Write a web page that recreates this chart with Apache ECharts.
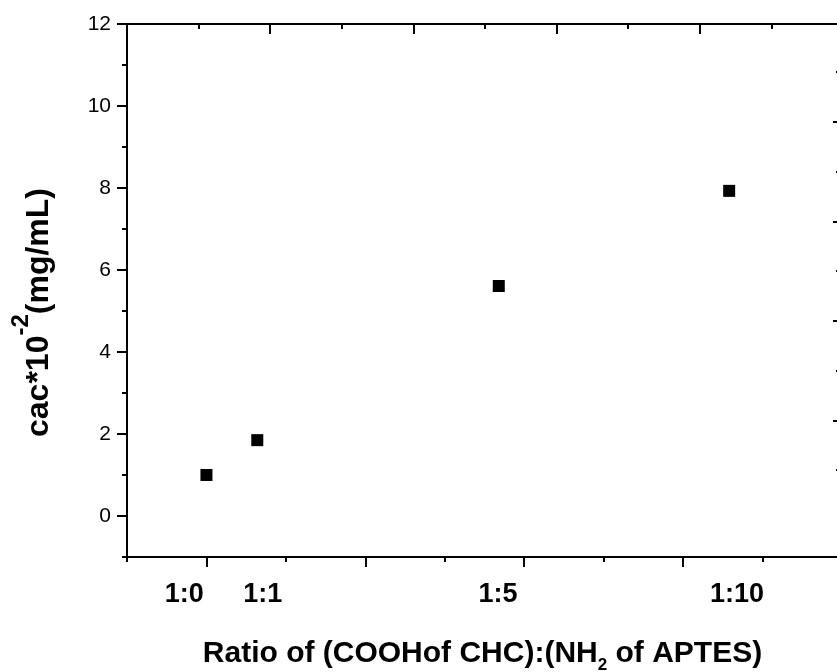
<!DOCTYPE html>
<html>
<head>
<meta charset="utf-8">
<script src="https://cdn.jsdelivr.net/npm/echarts@6/dist/echarts.min.js"></script>
<style>
  html, body { margin: 0; padding: 0; background: #fff; }
  #chart { width: 837px; height: 672px; }
</style>
</head>
<body>
<div id="chart"></div>
<script>
// ratio labels and where they sit on the bottom axis
const ratioLabels = ['1:0', '1:1', '1:5', '1:10'];
const ratioLabelPos = [-0.28, 0.71, 3.67, 6.68];

// measured points: x position on the bottom axis, cac value
const pointX = [0, 0.64, 3.68, 6.58];
const cacValues = [1.0, 1.85, 5.61, 7.93];

// tick values
const yMajorTicks = [0, 2, 4, 6, 8, 10, 12];
const yMinorTicks = [-1, 1, 3, 5, 7, 9, 11];
const xMajorTicks = [0, 2, 4, 6];
const xMinorTicks = [-1, 1, 3, 5, 7];
const topMajorTicks = [1, 3, 5, 7];
const topMinorTicks = [0, 2, 4, 6, 8];
const rightMajorTicks = [2, 4, 6, 8];
const rightMinorTicks = [1, 3, 5, 7, 9];

const FONT = '"Liberation Sans", Arial, sans-serif';
const black = '#000';

const points = pointX.map((x, i) => [x, cacValues[i]]);

function tickAxis(extra) {
  // plain axis that only shows ticks
  return Object.assign({
    type: 'value',
    axisLine: { show: false, onZero: false },
    axisLabel: { show: false },
    splitLine: { show: false }
  }, extra);
}

const chart = echarts.init(document.getElementById('chart'));
const option = {
  animation: false,
  backgroundColor: '#fff',
  grid: [
    { left: 127, top: 24, right: -1, bottom: 115, outerBoundsMode: 'none', containLabel: false },
    { left: 127, top: 24, right: -1, bottom: 115, outerBoundsMode: 'none', containLabel: false }
  ],
  xAxis: [
    {
      type: 'value', gridIndex: 0, position: 'bottom',
      min: -1, max: 7.95,
      axisLine: { show: true, onZero: false, lineStyle: { color: black, width: 2 } },
      axisTick: { show: true, length: 10, customValues: xMajorTicks, lineStyle: { color: black, width: 2 } },
      axisLabel: {
        show: true, margin: 24, customValues: ratioLabelPos,
        formatter: v => ratioLabels[ratioLabelPos.indexOf(v)],
        color: black, fontFamily: FONT, fontWeight: 'bold', fontSize: 27
      },
      splitLine: { show: false },
      name: 'Ratio of (COOHof CHC):(NH{sub|2} of APTES)',
      nameLocation: 'middle', nameGap: 77,
      nameTextStyle: {
        color: black, fontFamily: FONT, fontWeight: 'bold', fontSize: 30, lineHeight: 30,
        rich: { sub: { fontFamily: FONT, fontWeight: 'bold', fontSize: 17, lineHeight: 40, verticalAlign: 'bottom', color: black } }
      }
    },
    {
      type: 'value', gridIndex: 0, position: 'top',
      min: -1, max: 8.93,
      axisLine: { show: true, onZero: false, lineStyle: { color: black, width: 2 } },
      axisTick: { show: true, inside: true, length: 10, customValues: topMajorTicks, lineStyle: { color: black, width: 2 } },
      axisLabel: { show: false },
      splitLine: { show: false }
    },
    tickAxis({ gridIndex: 1, position: 'bottom', min: -1, max: 7.95, axisTick: { show: true, length: 5, customValues: xMinorTicks, lineStyle: { color: black, width: 2 } } }),
    tickAxis({ gridIndex: 1, position: 'top', min: -1, max: 8.93, axisTick: { show: true, inside: true, length: 5, customValues: topMinorTicks, lineStyle: { color: black, width: 2 } } })
  ],
  yAxis: [
    {
      type: 'value', gridIndex: 0, position: 'left',
      min: -1, max: 12,
      axisLine: { show: true, onZero: false, lineStyle: { color: black, width: 2 } },
      axisTick: { show: true, length: 10, customValues: yMajorTicks, lineStyle: { color: black, width: 2 } },
      axisLabel: {
        show: true, margin: 16, customValues: yMajorTicks, showMaxLabel: true, showMinLabel: true,
        color: black, fontFamily: FONT, fontSize: 21
      },
      splitLine: { show: false },
      name: 'cac*10{sup|-2}(mg/mL)',
      nameLocation: 'middle', nameGap: 58, nameRotate: 90,
      nameTextStyle: {
        color: black, fontFamily: FONT, fontWeight: 'bold', fontSize: 32, lineHeight: 32,
        padding: [0, 44, 0, 0],
        rich: { sup: { fontFamily: FONT, fontWeight: 'bold', fontSize: 24, lineHeight: 60, verticalAlign: 'top', color: black } }
      }
    },
    {
      type: 'value', gridIndex: 0, position: 'right',
      min: -0.75, max: 9.97,
      axisLine: { show: true, onZero: false, lineStyle: { color: black, width: 2 } },
      axisTick: { show: true, inside: true, length: 5, customValues: rightMajorTicks, lineStyle: { color: black, width: 2 } },
      axisLabel: { show: false },
      splitLine: { show: false }
    },
    tickAxis({ gridIndex: 1, position: 'left', min: -1, max: 12, axisTick: { show: true, length: 5, customValues: yMinorTicks, lineStyle: { color: black, width: 2 } } }),
    tickAxis({ gridIndex: 1, position: 'right', min: -0.75, max: 9.97, axisTick: { show: true, inside: true, length: 2, customValues: rightMinorTicks, lineStyle: { color: black, width: 2 } } })
  ],
  series: [
    {
      type: 'scatter',
      xAxisIndex: 0, yAxisIndex: 0,
      symbol: 'rect', symbolSize: 12,
      itemStyle: { color: black, opacity: 1 },
      data: points
    }
  ]
};
chart.setOption(option);
</script>
</body>
</html>
